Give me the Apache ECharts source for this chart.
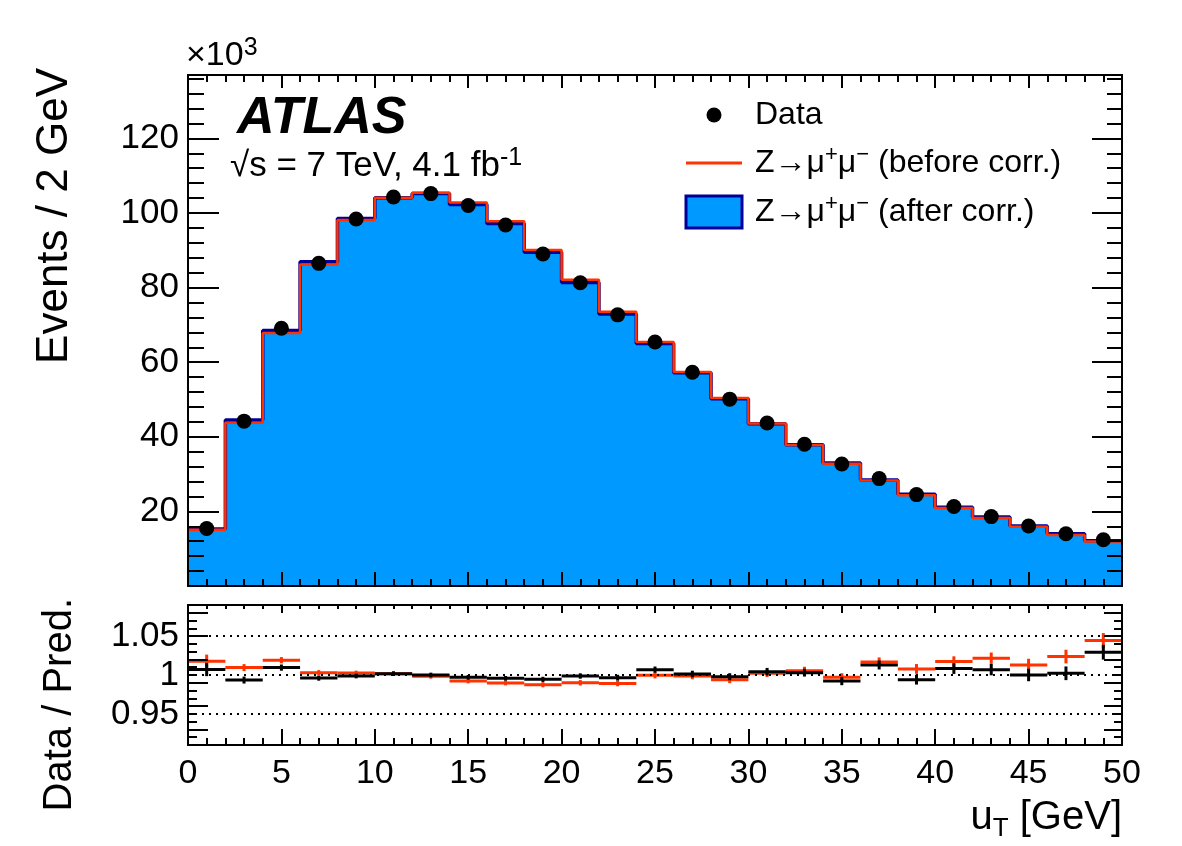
<!DOCTYPE html>
<html>
<head>
<meta charset="utf-8">
<script src="https://cdn.jsdelivr.net/npm/echarts@6/dist/echarts.min.js"></script>
<style>
html, body { margin: 0; padding: 0; background: #fff; }
#chart { width: 1182px; height: 846px; }
</style>
</head>
<body>
<div id="chart"></div>
<script>
// u_T bins, 2 GeV wide
const binCenters = [1, 3, 5, 7, 9, 11, 13, 15, 17, 19, 21, 23, 25, 27, 29, 31, 33, 35, 37, 39, 41, 43, 45, 47, 49];
const binHalfWidth = 1;

// events / 2 GeV, in units of 10^3
const dataEvents = [15.4, 44.2, 69.1, 86.5, 98.4, 104.3, 105.2, 102.0, 96.8, 89.0, 81.3, 72.7, 65.4, 57.3, 50.1, 43.7, 38.0, 32.7, 28.8, 24.5, 21.3, 18.6, 16.1, 14.0, 12.4];
const afterCorr = [15.3, 44.5, 68.5, 86.9, 98.5, 104.1, 105.2, 102.3, 97.2, 89.5, 81.4, 72.9, 65.0, 57.2, 50.2, 43.5, 37.9, 33.0, 28.4, 24.6, 21.1, 18.5, 16.1, 14.0, 12.1];
const beforeCorr = [15.1, 43.8, 67.8, 86.2, 98.1, 104.1, 105.4, 102.8, 97.8, 90.1, 82.1, 73.5, 65.4, 57.4, 50.4, 43.6, 37.8, 32.8, 28.3, 24.3, 20.9, 18.2, 15.9, 13.7, 11.9];

// data / prediction
const ratioAfter = [1.007, 0.9935, 1.0095, 0.996, 0.9987, 1.0017, 1.0, 0.997, 0.9957, 0.9944, 0.9987, 0.9966, 1.0069, 1.0013, 0.9978, 1.0043, 1.003, 0.9922, 1.0129, 0.994, 1.0082, 1.0069, 1.0, 1.0022, 1.0293];
const ratioBefore = [1.0177, 1.0095, 1.019, 1.003, 1.0026, 1.0017, 0.9983, 0.9922, 0.9897, 0.9875, 0.990, 0.9892, 0.9996, 0.9987, 0.994, 1.0022, 1.0056, 0.997, 1.0168, 1.0078, 1.0172, 1.0216, 1.0129, 1.0237, 1.0444];
const ratioErr = [0.0085, 0.0045, 0.004, 0.0033, 0.003, 0.003, 0.003, 0.003, 0.003, 0.0033, 0.0035, 0.0037, 0.004, 0.0042, 0.0045, 0.0048, 0.005, 0.0053, 0.0058, 0.0063, 0.0068, 0.0073, 0.008, 0.0088, 0.0095];

const ratioTicks = [0.95, 1, 1.05];

const FONT = 'Liberation Sans, Arial, Helvetica, sans-serif';
const BLUE = '#0099ff';
const NAVY = '#000099';
const RED = '#ff3300';

let chart = echarts.init(document.getElementById('chart'), null, { renderer: 'canvas' });

// histogram outline: left edges + closing right edge, drawn with step 'end'
function stepPoints(vals) {
    let pts = vals.map((v, i) => [binCenters[i] - binHalfWidth, v]);
    let last = vals.length - 1;
    pts.push([binCenters[last] + binHalfWidth, vals[last]]);
    return pts;
}

function crossItem(color) {
    return function (params, api) {
        let x = api.value(0), y = api.value(1), e = api.value(2);
        let l = api.coord([x - binHalfWidth, y]);
        let r = api.coord([x + binHalfWidth, y]);
        let lo = api.coord([x, y - e]);
        let hi = api.coord([x, y + e]);
        return {
            type: 'group',
            children: [
                { type: 'line', shape: { x1: l[0], y1: l[1], x2: r[0], y2: r[1] }, style: { stroke: color, lineWidth: 3 } },
                { type: 'line', shape: { x1: lo[0], y1: lo[1], x2: hi[0], y2: hi[1] }, style: { stroke: color, lineWidth: 3 } }
            ]
        };
    };
}

const frameLine = { show: true, onZero: false, lineStyle: { color: '#000', width: 2 } };

function xAx(grid, pos, major, minor, labels) {
    return {
        type: 'value', gridIndex: grid, position: pos, min: 0, max: 50, interval: 5, z: 5,
        axisLine: frameLine,
        axisTick: { show: true, inside: true, length: major, lineStyle: { color: '#000', width: 2 } },
        minorTick: { show: true, splitNumber: 5, length: minor, lineStyle: { color: '#000', width: 2 } },
        axisLabel: labels ? { show: true, color: '#000', fontFamily: FONT, fontSize: 34, margin: 12 } : { show: false },
        splitLine: { show: false }
    };
}

function yAx(grid, pos, min, max, extra, tickLen, labels) {
    return Object.assign({
        type: 'value', gridIndex: grid, position: pos, min: min, max: max, z: 5,
        axisLine: frameLine,
        axisTick: { show: true, inside: true, length: tickLen, lineStyle: { color: '#000', width: 2 } },
        axisLabel: labels ? Object.assign({ show: true, color: '#000', fontFamily: FONT, fontSize: 35, margin: 9 }, labels) : { show: false },
        splitLine: { show: false }
    }, extra);
}

// superscript helper for rich text
function richText(size, supSize) {
    return {
        n: { fontFamily: FONT, fontSize: size, lineHeight: size + 6, fill: '#000' },
        sup: { fontFamily: FONT, fontSize: supSize, lineHeight: supSize, verticalAlign: 'top', fill: '#000' }
    };
}

const mainMax = 137;

let option = {
    animation: false,
    backgroundColor: '#fff',
    grid: [
        { left: 188, top: 75, width: 934, height: 511 },
        { left: 188, top: 605, width: 934, height: 140 }
    ],
    xAxis: [
        xAx(0, 'bottom', 14, 7, false),
        xAx(0, 'top', 13, 7, false),
        xAx(1, 'bottom', 16, 7, true),
        xAx(1, 'top', 8, 4, false)
    ],
    yAxis: [
        yAx(0, 'left', 0, mainMax, { interval: 20 }, 31, { showMinLabel: false, showMaxLabel: false }),
        yAx(0, 'left', 0, mainMax, { interval: 4 }, 16, false),
        yAx(0, 'right', 0, mainMax, { interval: 20 }, 30, false),
        yAx(0, 'right', 0, mainMax, { interval: 4 }, 15, false),
        yAx(1, 'left', 0.91, 1.09, {}, 20, { customValues: ratioTicks }),
        yAx(1, 'left', 0.91, 1.09, { interval: 0.01 }, 9, false),
        yAx(1, 'right', 0.91, 1.09, {}, 18, false),
        yAx(1, 'right', 0.91, 1.09, { interval: 0.01 }, 8, false)
    ],
    series: [
        {
            name: 'after corr.', type: 'line', step: 'end', xAxisIndex: 0, yAxisIndex: 0,
            data: stepPoints(afterCorr), symbol: 'none', z: 1,
            lineStyle: { color: NAVY, width: 3.5 },
            areaStyle: { color: BLUE, opacity: 1 }
        },
        {
            name: 'before corr.', type: 'line', step: 'end', xAxisIndex: 0, yAxisIndex: 0,
            data: stepPoints(beforeCorr), symbol: 'none', z: 2,
            lineStyle: { color: RED, width: 2.5 }
        },
        {
            name: 'Data', type: 'scatter', xAxisIndex: 0, yAxisIndex: 0, z: 3,
            data: binCenters.map((x, i) => [x, dataEvents[i]]),
            symbol: 'circle', symbolSize: 15, itemStyle: { color: '#000', opacity: 1 }
        },
        {
            name: 'ratio before', type: 'custom', xAxisIndex: 2, yAxisIndex: 4, z: 2,
            data: binCenters.map((x, i) => [x, ratioBefore[i], ratioErr[i]]),
            renderItem: crossItem(RED),
            markLine: {
                silent: true, symbol: 'none', label: { show: false },
                lineStyle: { color: '#000', type: [2, 5], width: 2 },
                data: ratioTicks.map(v => ({ yAxis: v }))
            }
        },
        {
            name: 'ratio after', type: 'custom', xAxisIndex: 2, yAxisIndex: 4, z: 3,
            data: binCenters.map((x, i) => [x, ratioAfter[i], ratioErr[i]]),
            renderItem: crossItem('#000')
        }
    ],
    graphic: [
        // axis titles
        { type: 'text', x: 55, y: 68, rotation: Math.PI / 2,
          style: { text: 'Events / 2 GeV', fontFamily: FONT, fontSize: 44, fill: '#000', align: 'right', verticalAlign: 'middle' } },
        { type: 'text', x: 60, y: 598, rotation: Math.PI / 2,
          style: { text: 'Data / Pred.', fontFamily: FONT, fontSize: 40, fill: '#000', align: 'right', verticalAlign: 'middle' } },
        { type: 'text', x: 1122, y: 818,
          style: { text: '{m|u}{s|T}{m| [GeV]}', fontFamily: FONT, align: 'right', verticalAlign: 'middle',
                   rich: { m: { fontFamily: FONT, fontSize: 40, fill: '#000' },
                           s: { fontFamily: FONT, fontSize: 26, fill: '#000', padding: [22, 0, 0, 0] } } } },
        { type: 'text', x: 186, y: 56,
          style: { text: '{n|×10}{sup|3}', align: 'left', verticalAlign: 'middle', rich: richText(34, 25) } },
        // ATLAS label
        { type: 'text', x: 237, y: 119,
          style: { text: 'ATLAS', fontFamily: FONT, fontSize: 52, fontWeight: 'bold', fontStyle: 'italic', fill: '#000', align: 'left', verticalAlign: 'middle' } },
        { type: 'text', x: 230, y: 166,
          style: { text: '{n|√s = 7 TeV, 4.1 fb}{sup|-1}', align: 'left', verticalAlign: 'middle', rich: richText(35, 25) } },
        // legend
        { type: 'circle', shape: { cx: 714, cy: 115, r: 7.5 }, style: { fill: '#000' } },
        { type: 'line', shape: { x1: 686, y1: 163, x2: 742, y2: 163 }, style: { stroke: RED, lineWidth: 3 } },
        { type: 'rect', shape: { x: 686, y: 196, width: 56, height: 32 }, style: { fill: BLUE, stroke: NAVY, lineWidth: 3 } },
        { type: 'text', x: 755, y: 115,
          style: { text: 'Data', fontFamily: FONT, fontSize: 32, fill: '#000', align: 'left', verticalAlign: 'middle' } },
        { type: 'text', x: 755, y: 163,
          style: { text: '{n|Z→μ}{sup|+}{n|μ}{sup|−}{n| (before corr.)}', align: 'left', verticalAlign: 'middle', rich: richText(32, 22) } },
        { type: 'text', x: 755, y: 212,
          style: { text: '{n|Z→μ}{sup|+}{n|μ}{sup|−}{n| (after corr.)}', align: 'left', verticalAlign: 'middle', rich: richText(32, 22) } }
    ]
};

chart.setOption(option);
</script>
</body>
</html>
